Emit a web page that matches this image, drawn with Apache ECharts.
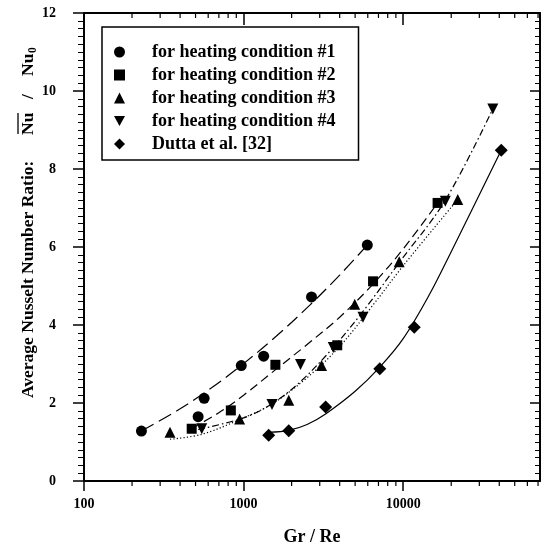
<!DOCTYPE html>
<html>
<head>
<meta charset="utf-8">
<script src="https://cdn.jsdelivr.net/npm/echarts@6/dist/echarts.min.js"></script>
<style>
html, body { margin: 0; padding: 0; background: #fff; }
#chart { width: 546px; height: 546px; }
</style>
</head>
<body>
<div id="chart"></div>
<script>
// Average Nusselt number ratio vs. Gr/Re for four heating conditions
const FONT = '"Liberation Serif", "Times New Roman", serif';

// Measured points: [Gr/Re, Nu/Nu0]
const cond1 = [[229, 1.28], [519, 1.65], [566, 2.12], [967, 2.96], [1336, 3.20], [2665, 4.72], [5960, 6.05]];
const cond2 = [[473, 1.34], [832, 1.81], [1582, 2.98], [3862, 3.48], [6475, 5.12], [16430, 7.13]];
const cond3 = [[346, 1.25], [944, 1.59], [1919, 2.07], [3080, 2.96], [4970, 4.53], [9440, 5.62], [21970, 7.22]];
const cond4 = [[547, 1.34], [1507, 1.96], [2273, 2.99], [3645, 3.42], [5600, 4.20], [18370, 7.17], [36450, 9.54]];
const dutta = [[1436, 1.17], [1919, 1.29], [3265, 1.90], [7135, 2.88], [11730, 3.94], [41150, 8.48]];

// Correlation curves, sampled along each trend line
const fit1 = [[229, 1.28], [400, 1.85], [630, 2.39], [1000, 3.01], [1600, 3.71], [2600, 4.51], [4000, 5.28], [5960, 6.05]];
const fit2 = [[473, 1.35], [700, 1.75], [1000, 2.2], [1580, 2.85], [2500, 3.5], [4000, 4.2], [6475, 5.05], [10000, 5.95], [16430, 7.13]];
const fit3 = [[346, 1.07], [550, 1.2], [1000, 1.62], [1500, 1.97], [2500, 2.65], [4000, 3.45], [6300, 4.45], [10140, 5.55], [22000, 7.22]];
const fit4 = [[519, 1.32], [1000, 1.62], [1507, 1.98], [2273, 2.55], [3645, 3.42], [5600, 4.35], [9440, 5.6], [18370, 7.2], [36450, 9.54]];
const fit5 = [[1436, 1.25], [1919, 1.3], [2500, 1.45], [3265, 1.72], [5000, 2.3], [7135, 2.92], [10000, 3.65], [14600, 4.78], [20000, 5.88], [41150, 8.48]];

const seriesNames = ['for heating condition #1', 'for heating condition #2', 'for heating condition #3', 'for heating condition #4', 'Dutta et al. [32]'];

// Axis ranges and tick values
const xMin = 100, xMax = 72000;
const yMin = 0, yMax = 12, yStep = 2;
const xMinorTicks = [200, 300, 400, 500, 600, 700, 800, 900,
                     2000, 3000, 4000, 5000, 6000, 7000, 8000, 9000,
                     20000, 30000, 40000, 50000, 60000, 70000];

const DOWN_TRIANGLE = 'path://M0,0L10,0L5,9Z';

const chart = echarts.init(document.getElementById('chart'), null, { renderer: 'canvas' });

// Vertical axis title; local x runs upward along the left margin (local x = -screen y)
function yTitle() {
  const txt = { fill: '#000', fontFamily: FONT, fontWeight: 'bold', align: 'left', verticalAlign: 'middle' };
  const piece = (text, x, y, size) => ({
    type: 'text', x: x, y: y, style: Object.assign({ text: text, fontSize: size }, txt)
  });
  return {
    type: 'group', x: 28, y: 0, rotation: Math.PI / 2,
    children: [
      piece('Average Nusselt Number Ratio:', -398, 0, 17.5),
      piece('Nu', -135, 0, 17.5),
      piece('/', -99, 0, 17.5),
      piece('Nu', -76, 0, 17.5),
      piece('0', -53, 5, 11.5),
      { type: 'line', shape: { x1: -134, y1: -10, x2: -113, y2: -10 }, style: { stroke: '#000', lineWidth: 1.3 } }
    ]
  };
}

const labelStyle = { fontFamily: FONT, fontWeight: 'bold', color: '#000' };
const axisLine = { show: true, onZero: false, lineStyle: { color: '#000', width: 2 } };

function scatter(name, data, symbol, size) {
  return {
    name: name, type: 'scatter', data: data, symbol: symbol, symbolSize: size,
    itemStyle: { color: '#000', opacity: 1 }, z: 5, silent: true
  };
}
function curve(name, data, dash) {
  return {
    name: name, type: 'line', data: data, smooth: 0.35, showSymbol: false, symbol: 'none',
    lineStyle: { color: '#000', width: 1.2, type: dash }, z: 3, silent: true
  };
}

const option = {
  backgroundColor: '#fff',
  animation: false,
  grid: { left: 84, right: 6, top: 13, bottom: 65, containLabel: false, outerBoundsMode: 'none' },
  legend: {
    orient: 'vertical', left: 102, top: 27,
    data: seriesNames,
    itemWidth: 11, itemHeight: 11, itemGap: 5,
    padding: [16, 23, 7, 12],
    borderColor: '#000', borderWidth: 1.5,
    selectedMode: false,
    itemStyle: { opacity: 1 },
    textStyle: Object.assign({ fontSize: 18, lineHeight: 18, padding: [0, 0, 0, 22] }, labelStyle)
  },
  xAxis: [
    {
      type: 'log', logBase: 10, min: xMin, max: xMax, position: 'bottom',
      axisLine: axisLine,
      axisTick: { show: true, inside: false, length: 10, lineStyle: { color: '#000', width: 1.5 } },
      axisLabel: Object.assign({ margin: 16, fontSize: 14, showMaxLabel: false,
        formatter: v => String(Math.round(v)) }, labelStyle),
      splitLine: { show: false }, minorTick: { show: false },
      name: 'Gr / Re', nameLocation: 'middle', nameGap: 47,
      nameTextStyle: Object.assign({ fontSize: 18 }, labelStyle)
    },
    {
      type: 'log', logBase: 10, min: xMin, max: xMax, position: 'top',
      axisLine: axisLine,
      axisTick: { show: true, inside: true, length: 12, lineStyle: { color: '#000', width: 1.5 } },
      axisLabel: { show: false }, splitLine: { show: false }
    }
  ],
  yAxis: [
    {
      type: 'value', min: yMin, max: yMax, interval: yStep, position: 'left',
      axisLine: axisLine,
      axisTick: { show: true, inside: false, length: 11, lineStyle: { color: '#000', width: 1.5 } },
      minorTick: { show: true, splitNumber: 10, length: 6, lineStyle: { color: '#000', width: 1 } },
      axisLabel: Object.assign({ margin: 28, fontSize: 14 }, labelStyle),
      splitLine: { show: false }
    },
    {
      type: 'value', min: yMin, max: yMax, interval: yStep, position: 'right',
      axisLine: axisLine,
      axisTick: { show: true, inside: true, length: 10, lineStyle: { color: '#000', width: 1.5 } },
      minorTick: { show: true, splitNumber: 10, length: 5, lineStyle: { color: '#000', width: 1 } },
      axisLabel: { show: false }, splitLine: { show: false }
    }
  ],
  graphic: [yTitle()],
  series: [
    curve('fit #1', fit1, [14, 6]),
    curve('fit #2', fit2, [9, 5]),
    curve('fit #3', fit3, [1.2, 2.2]),
    curve('fit #4', fit4, [7, 3, 1.5, 3]),
    curve('fit Dutta', fit5, 'solid'),
    scatter(seriesNames[0], cond1, 'circle', 11),
    scatter(seriesNames[1], cond2, 'rect', 10),
    scatter(seriesNames[2], cond3, 'triangle', 11),
    scatter(seriesNames[3], cond4, DOWN_TRIANGLE, 11),
    scatter(seriesNames[4], dutta, 'diamond', 13),
    {
      // Logarithmic minor ticks on the bottom (outward) and top (inward) axes
      name: 'x minor ticks', type: 'custom', silent: true, clip: false, z: 10,
      data: xMinorTicks.map(v => [v, yMin]),
      encode: { x: 0, y: 1 },
      renderItem: function (params, api) {
        const v = api.value(0);
        const b = api.coord([v, yMin]);
        const t = api.coord([v, yMax]);
        return {
          type: 'group', children: [
            { type: 'line', shape: { x1: b[0], y1: b[1], x2: b[0], y2: b[1] + 5 }, style: { stroke: '#000', lineWidth: 1.2 } },
            { type: 'line', shape: { x1: t[0], y1: t[1], x2: t[0], y2: t[1] + 5 }, style: { stroke: '#000', lineWidth: 1.2 } }
          ]
        };
      }
    }
  ]
};

chart.setOption(option);
</script>
</body>
</html>
